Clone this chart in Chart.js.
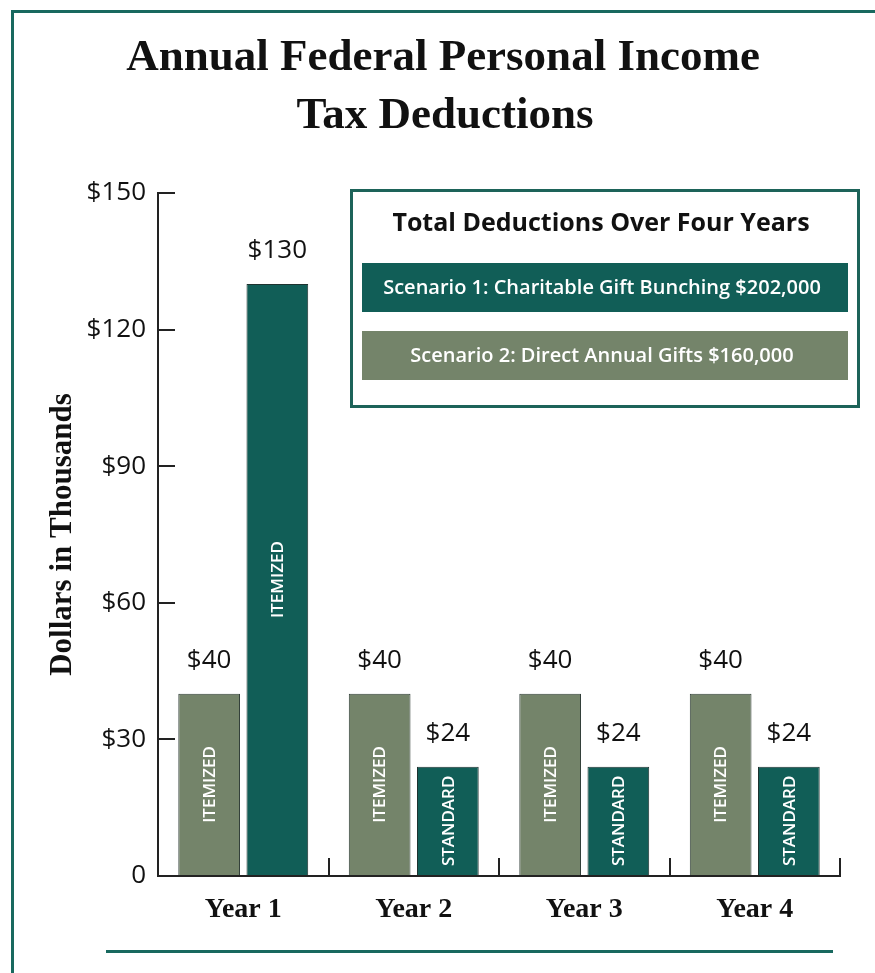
<!DOCTYPE html>
<html lang="en">
  <head>
    <meta charset="UTF-8" />
    <title>Annual Federal Personal Income Tax Deductions</title>
    <script src="https://cdn.jsdelivr.net/npm/chart.js"></script>
    <style>
      html,
      body {
        margin: 0;
        padding: 0;
        background: #fff;
      }
      canvas {
        display: block;
      }
    </style>
  </head>
  <body>
    <canvas id="deductionChart" width="875" height="973"></canvas>

    <script>
      // chart data
      const years = ["Year 1", "Year 2", "Year 3", "Year 4"];
      const directGifts = [40, 40, 40, 40];
      const giftBunching = [130, 24, 24, 24];
      const directKinds = ["ITEMIZED", "ITEMIZED", "ITEMIZED", "ITEMIZED"];
      const bunchingKinds = ["ITEMIZED", "STANDARD", "STANDARD", "STANDARD"];
      const yTicks = [0, 30, 60, 90, 120, 150];
      const titleLines = ["Annual Federal Personal Income", "Tax Deductions"];
      const legendTitle = "Total Deductions Over Four Years";
      const scenarioLabels = [
        "Scenario 1: Charitable Gift Bunching $202,000",
        "Scenario 2: Direct Annual Gifts $160,000",
      ];

      const OLIVE = "#74846a";
      const TEAL = "#115e57";
      const FRAME = "#18695f";
      const SANS = "'Open Sans', 'Noto Sans', sans-serif";
      const SERIF = "'Liberation Serif', 'DejaVu Serif', serif";

      // frame lines + title
      const framePlugin = {
        id: "frame",
        beforeDraw(chart) {
          const c = chart.ctx;
          c.save();
          c.fillStyle = "#fff";
          c.fillRect(0, 0, chart.width, chart.height);
          c.fillStyle = FRAME;
          c.fillRect(11, 10, chart.width - 11, 3);
          c.fillRect(11, 10, 3, chart.height - 10);
          c.fillRect(106, 950, 727, 3);

          c.fillStyle = "#111";
          c.font = "bold 45px " + SERIF;
          c.textAlign = "center";
          c.textBaseline = "alphabetic";
          c.fillText(titleLines[0], 443, 70);
          c.fillText(titleLines[1], 445, 128);
          c.restore();
        },
      };

      // value labels over bars, kind labels inside bars, legend box
      const labelPlugin = {
        id: "labels",
        afterDatasetsDraw(chart) {
          const c = chart.ctx;
          const kinds = [directKinds, bunchingKinds];
          c.save();
          chart.data.datasets.forEach((ds, i) => {
            chart.getDatasetMeta(i).data.forEach((bar, j) => {
              c.fillStyle = "#111";
              c.font = "26px " + SANS;
              c.textAlign = "center";
              c.textBaseline = "alphabetic";
              c.fillText("$" + ds.data[j], bar.x, bar.y - 26);

              c.save();
              c.translate(bar.x, (bar.y + bar.base) / 2);
              c.rotate(-Math.PI / 2);
              c.fillStyle = "#fff";
              c.font = "600 17px " + SANS;
              c.textBaseline = "middle";
              c.fillText(kinds[i][j], 0, 1);
              c.restore();
            });
          });

          // legend box
          c.strokeStyle = "#1d6359";
          c.lineWidth = 3;
          c.strokeRect(351.5, 190.5, 507, 216);
          c.fillStyle = "#111";
          c.font = "bold 25px " + SANS;
          c.textAlign = "center";
          c.textBaseline = "middle";
          c.fillText(legendTitle, 601, 224);

          const swatchColors = [TEAL, OLIVE];
          const swatchTops = [263, 331];
          scenarioLabels.forEach((txt, k) => {
            c.fillStyle = swatchColors[k];
            c.fillRect(362, swatchTops[k], 486, 49);
            c.fillStyle = "#fff";
            c.font = "600 20px " + SANS;
            c.fillText(txt, 602, swatchTops[k] + 25);
          });
          c.restore();
        },
      };

      const ctx = document.getElementById("deductionChart").getContext("2d");
      const chart = new Chart(ctx, {
        type: "bar",
        data: {
          labels: years,
          datasets: [
            {
              label: scenarioLabels[1],
              data: directGifts,
              backgroundColor: OLIVE,
              borderColor: "#33403a",
              borderWidth: 1,
              categoryPercentage: 0.8,
              barPercentage: 0.905,
            },
            {
              label: scenarioLabels[0],
              data: giftBunching,
              backgroundColor: TEAL,
              borderColor: "#1f3330",
              borderWidth: 1,
              categoryPercentage: 0.8,
              barPercentage: 0.905,
            },
          ],
        },
        options: {
          responsive: false,
          animation: false,
          layout: {
            padding: { top: 193, right: 35, bottom: 0, left: 0 },
          },
          plugins: {
            legend: { display: false },
            title: { display: false },
            tooltip: { enabled: false },
          },
          scales: {
            x: {
              afterFit: (s) => {
                s.height = 97;
              },
              grid: {
                offset: true,
                drawOnChartArea: false,
                drawTicks: true,
                tickLength: -18,
                color: "#222",
                lineWidth: 2,
              },
              border: { color: "#222", width: 2 },
              ticks: {
                padding: 35,
                color: "#111",
                font: { family: SERIF, size: 28, weight: "bold" },
              },
            },
            y: {
              min: 0,
              max: 150,
              afterBuildTicks: (s) => {
                s.ticks = yTicks.map((v) => ({ value: v }));
              },
              afterFit: (s) => {
                s.width = 158;
              },
              grid: {
                drawOnChartArea: false,
                drawTicks: true,
                tickLength: -17,
                color: "#222",
                lineWidth: 2,
              },
              border: { color: "#222", width: 2 },
              ticks: {
                padding: 29,
                color: "#111",
                font: { family: SANS, size: 26 },
                callback: (v) => (v === 0 ? "0" : "$" + v),
              },
              title: {
                display: true,
                text: "Dollars in Thousands",
                color: "#111",
                font: { family: SERIF, size: 31, weight: "bold" },
                padding: { top: 44, bottom: 0 },
              },
            },
          },
        },
        plugins: [framePlugin, labelPlugin],
      });
    </script>
  </body>
</html>
